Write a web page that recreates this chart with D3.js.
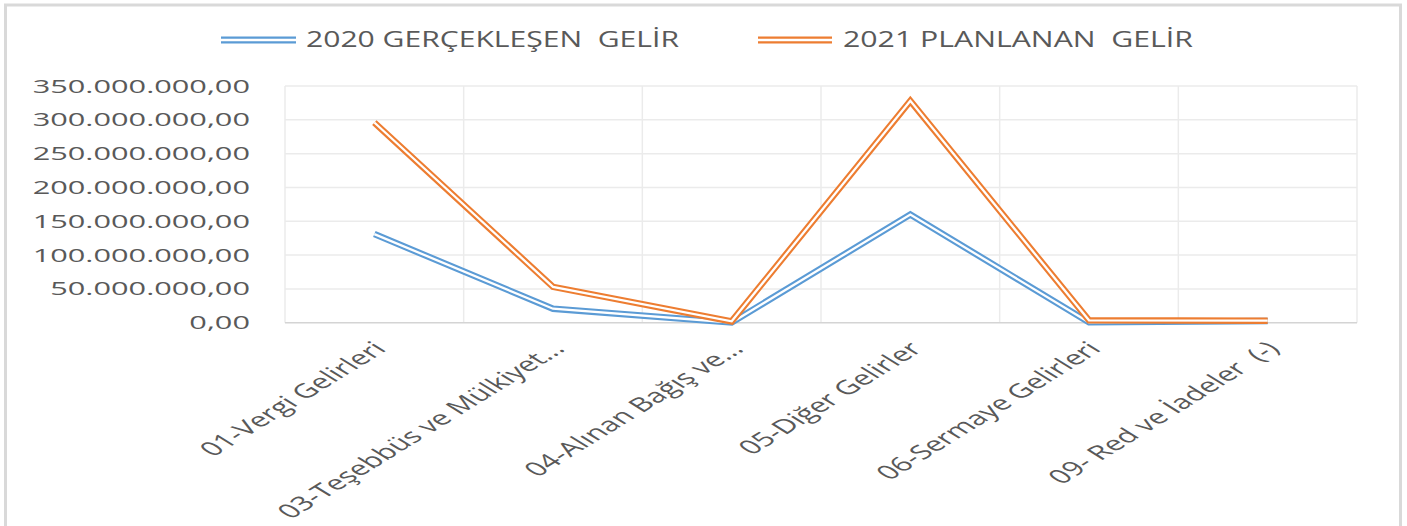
<!DOCTYPE html>
<html><head><meta charset="utf-8">
<script src="https://cdn.jsdelivr.net/npm/d3@7/dist/d3.min.js"></script>
<style>body{margin:0;background:#fff;overflow:hidden}</style>
</head><body><svg id="c" width="1407" height="526"></svg>
<script>
const categories = ["01-Vergi Gelirleri","03-Teşebbüs ve Mülkiyet...","04-Alınan Bağış ve...","05-Diğer Gelirler","06-Sermaye Gelirleri","09- Red ve İadeler  (-)"];
const series2020 = [131e6, 20.7e6, 0.3e6, 160e6, 0.6e6, 2.5e6];
const series2021 = [296e6, 53e6, 2e6, 328e6, 3.5e6, 3e6];
const seriesNames = ["2020 GERÇEKLEŞEN  GELİR", "2021 PLANLANAN  GELİR"];
const yTicks = [0, 50e6, 100e6, 150e6, 200e6, 250e6, 300e6, 350e6];

const colors = ["#5B9BD5", "#ED7D31"];
const SX = 1.68;
const SXR = 1.62;
const FONT = "'Open Sans', sans-serif";
const TXT = "#595959";

const svg = d3.select("#c");
const L = 285, R = 1357, T = 86, B = 322.7;

svg.append("rect").attr("x",5.5).attr("y",5).attr("width",1395).attr("height",600)
  .attr("fill","#fff").attr("stroke","#d9d9d9").attr("stroke-width",3);

const x = d3.scaleBand().domain(categories).range([L, R]).paddingInner(0).paddingOuter(0);
const y = d3.scaleLinear().domain([0, 350e6]).range([B, T]);
const cx = d => x(d) + x.bandwidth()/2;

const loc = d3.formatLocale({decimal:",", thousands:".", grouping:[3], currency:["","₺"]});
const fmt = loc.format(",.2f");

// gridlines
const g = svg.append("g");
g.selectAll("line.h").data(yTicks.filter(t=>t>0)).join("line")
  .attr("x1",L).attr("x2",R).attr("y1",d=>y(d)).attr("y2",d=>y(d))
  .attr("stroke","#ebebeb").attr("stroke-width",1.5);
const bounds = categories.map(c=>x(c)).concat([R]);
g.selectAll("line.v").data(bounds).join("line")
  .attr("x1",d=>d).attr("x2",d=>d).attr("y1",T).attr("y2",B)
  .attr("stroke","#ebebeb").attr("stroke-width",1.5);
g.append("line").attr("x1",L).attr("x2",R).attr("y1",B).attr("y2",B)
  .attr("stroke","#d4d4d4").attr("stroke-width",1.5);

// y labels
svg.append("g").selectAll("text").data(yTicks).join("text")
  .attr("transform", d=>`translate(250,${y(d)}) scale(${SX},1)`)
  .attr("text-anchor","end").attr("dy","0.36em")
  .attr("font-family",FONT).attr("font-size",18.3).attr("fill",TXT)
  .text(d=>fmt(d));

// x labels
svg.append("g").selectAll("text").data(categories).join("text")
  .attr("transform", d=>`translate(${cx(d)-3},340) scale(${SXR},1) rotate(-45)`)
  .attr("text-anchor","end").attr("dy","0.72em")
  .attr("font-family",FONT).attr("font-size",19.6).attr("fill",TXT)
  .style("white-space","pre")
  .text(d=>d);

// lines
const line = d3.line().x((d,i)=>cx(categories[i])).y(d=>y(d)).curve(d3.curveLinear);
[series2020, series2021].forEach((s,k)=>{
  svg.append("path").attr("d",line(s)).attr("fill","none")
    .attr("stroke",colors[k]).attr("stroke-width",6.5).attr("stroke-linejoin","miter");
  svg.append("path").attr("d",line(s)).attr("fill","none")
    .attr("stroke","#fff").attr("stroke-width",2.3).attr("stroke-linejoin","miter");
});

// legend
const legendItems = [{x1:221,x2:296,tx:306,tw:373},{x1:758,x2:832,tx:843,tw:350}];
legendItems.forEach((it,k)=>{
  svg.append("line").attr("x1",it.x1).attr("x2",it.x2).attr("y1",40).attr("y2",40)
    .attr("stroke",colors[k]).attr("stroke-width",7);
  svg.append("line").attr("x1",it.x1).attr("x2",it.x2).attr("y1",40).attr("y2",40)
    .attr("stroke","#fff").attr("stroke-width",2.6);
  svg.append("text").attr("x",it.tx).attr("y",46.5)
    .attr("font-family",FONT).attr("font-size",21).attr("fill",TXT)
    .attr("textLength",it.tw).attr("lengthAdjust","spacingAndGlyphs")
    .style("white-space","pre")
    .text(seriesNames[k]);
});
</script></body></html>
